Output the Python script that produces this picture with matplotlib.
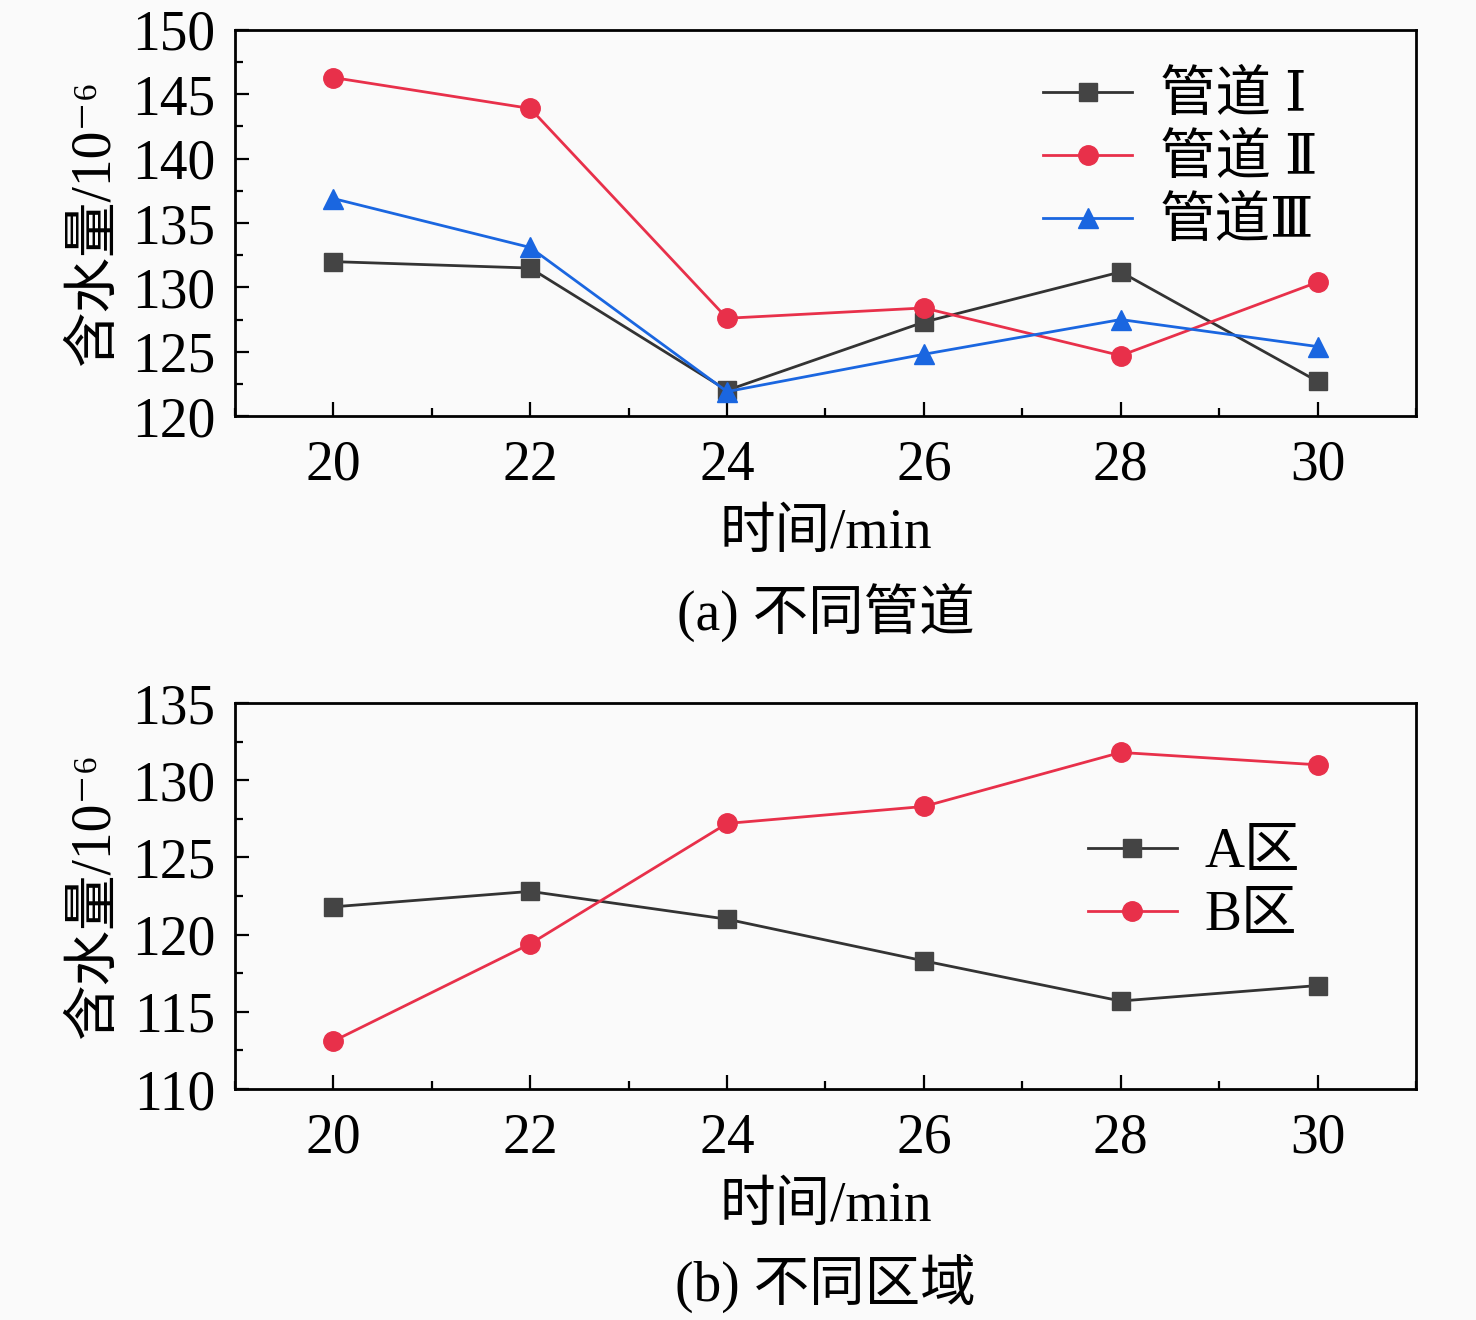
import matplotlib
matplotlib.use("Agg")
import matplotlib.pyplot as plt
from matplotlib.ticker import MultipleLocator

plt.rcParams['font.family'] = ['Liberation Serif', 'DejaVu Serif', 'Noto Sans CJK SC', 'DejaVu Sans']

time = [20, 22, 24, 26, 28, 30]
pipe1 = [132.0, 131.5, 122.0, 127.3, 131.2, 122.7]
pipe2 = [146.3, 143.9, 127.6, 128.4, 124.7, 130.4]
pipe3 = [136.9, 133.1, 121.9, 124.8, 127.5, 125.4]
zoneA = [121.8, 122.8, 121.0, 118.3, 115.7, 116.7]
zoneB = [113.1, 119.4, 127.2, 128.3, 131.8, 131.0]

labels_a = ['管道 Ⅰ', '管道 Ⅱ', '管道Ⅲ']
labels_b = ['A区', 'B区']

BG = '#fafafa'
BLACK = '#333333'
BLACK_M = '#444444'
RED = '#e8304a'
BLUE = '#1a66e0'

fig = plt.figure(figsize=(14.76, 13.2), dpi=100, facecolor=BG)
ax1 = fig.add_axes([0.1592, 0.6848, 0.8001, 0.2925])
ax2 = fig.add_axes([0.1592, 0.1750, 0.8001, 0.2924])

FS = 40
lw = 2.0
ms = 13

def style(ax, ylim, ymaj):
    ax.set_facecolor(BG)
    ax.set_xlim(19, 31)
    ax.set_ylim(*ylim)
    ax.xaxis.set_major_locator(MultipleLocator(2))
    ax.xaxis.set_minor_locator(MultipleLocator(1))
    ax.yaxis.set_major_locator(MultipleLocator(ymaj))
    ax.yaxis.set_minor_locator(MultipleLocator(ymaj / 2))
    ax.tick_params(which='both', direction='in', top=False, right=False, labelsize=FS, width=1.6)
    ax.tick_params(which='major', length=10)
    ax.tick_params(which='minor', length=6)
    ax.tick_params(axis='x', pad=17)
    ax.tick_params(axis='y', pad=14)
    for s in ax.spines.values():
        s.set_linewidth(2.0)
    ax.set_xlabel('时间/min', fontsize=FS, labelpad=12)
    ax.set_ylabel('含水量/10⁻⁶', fontsize=FS, labelpad=8)

ax1.plot(time, pipe1, '-s', color=BLACK, mfc=BLACK_M, mec=BLACK_M, lw=lw, ms=ms, label=labels_a[0])
ax1.plot(time, pipe2, '-o', color=RED, mfc=RED, mec=RED, lw=lw, ms=ms+1, label=labels_a[1])
ax1.plot(time, pipe3, '-^', color=BLUE, mfc=BLUE, mec=BLUE, lw=lw, ms=ms+1, label=labels_a[2])
style(ax1, (120, 150), 5)
ax1.legend(loc='upper right', bbox_to_anchor=(0.945, 0.98), frameon=False, fontsize=FS,
           handlelength=1.6, handletextpad=0.5, labelspacing=0.2, borderaxespad=0.2)

ax2.plot(time, zoneA, '-s', color=BLACK, mfc=BLACK_M, mec=BLACK_M, lw=lw, ms=ms, label=labels_b[0])
ax2.plot(time, zoneB, '-o', color=RED, mfc=RED, mec=RED, lw=lw, ms=ms+1, label=labels_b[1])
style(ax2, (110, 135), 5)
ax2.legend(loc='upper right', bbox_to_anchor=(0.93, 0.765), frameon=False, fontsize=FS,
           handlelength=1.6, handletextpad=0.5, labelspacing=0.2, borderaxespad=0.2)

fig.text(0.5593, 1 - 612 / 1320, '(a) 不同管道', fontsize=FS, ha='center', va='center')
fig.text(0.5593, 1 - 1283 / 1320, '(b) 不同区域', fontsize=FS, ha='center', va='center')

fig.savefig('out.png', dpi=100, facecolor=BG)
